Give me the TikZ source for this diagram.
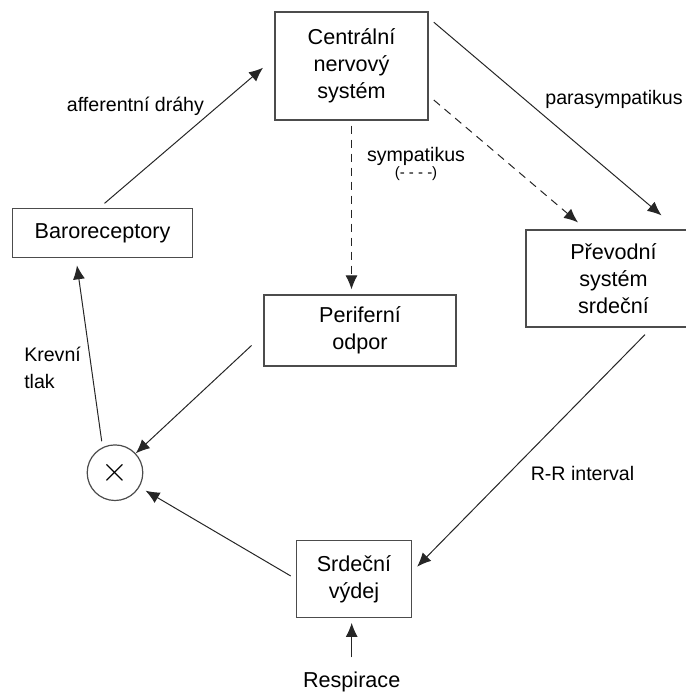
\documentclass[tikz,border=0pt]{standalone}
\usepackage{fontspec}
\setmainfont{Liberation Sans}
\usepackage{tikz}
\usetikzlibrary{positioning,arrows.meta}

\begin{document}
\begin{tikzpicture}[
  block/.style={draw=black!70, line width=0.6pt, inner sep=0pt, align=center,
               font=\fontsize{10.8}{13.6}\selectfont},
  lbl/.style={inner sep=0pt, font=\fontsize{9.8}{13.3}\selectfont},
  conn/.style={draw=black!85, line width=0.5pt},
  dashconn/.style={conn, dash pattern=on 4pt off 3pt},
  on grid,
  >={Latex[length=7pt,width=6pt]}
]

\useasboundingbox (0,0) rectangle (343pt,-346.5pt);

% Central node
\node[block, minimum width=76.5pt, minimum height=54pt] (cns) at (175.75pt,-33pt)
  {Centrální\\nervový\\systém};

% Left side
\node[block, minimum width=90pt, minimum height=24.75pt,
      below left=83.5pt and 124.5pt of cns] (baro) {Baroreceptory};
\node[circle, draw=black!70, line width=0.6pt, minimum size=27.8pt, inner sep=0pt,
      font=\fontsize{16}{16}\selectfont,
      below left=203.35pt and 118.25pt of cns] (mult) {$\times$};

% Middle
\node[block, minimum width=96pt, minimum height=35.5pt,
      below right=132.25pt and 4.25pt of cns] (perif) {Periferní\\odpor};
\node[block, minimum width=57.5pt, minimum height=38.3pt,
      below right=256.5pt and 1.25pt of cns] (srdce) {Srdeční\\výdej};
\node[block, draw=none, inner sep=7pt,
      below left=51.5pt and 1.15pt of srdce] (resp) {Respirace};

% Right side
\node[block, minimum width=87.5pt, minimum height=48.5pt,
      below right=106.25pt and 131pt of cns] (prevod) {Převodní\\systém\\srdeční};

% Connections from CNS
\draw[->, conn] ([xshift=2.6pt,yshift=-5.4pt]cns.north east)
  -- ([xshift=24pt,yshift=7pt]prevod.north)
  node[lbl, pos=0.4, right=10pt] (para) {parasympatikus};
\draw[->, dashconn] ([xshift=2.6pt,yshift=10.3pt]cns.south east)
  -- ([xshift=-17.75pt,yshift=3.5pt]prevod.north);
\draw[->, dashconn, shorten <=2.5pt, shorten >=2.5pt] (cns.south)
  -- (cns.south |- perif.north)
  node[lbl, pos=0.25, right=7.5pt, align=center] (symp)
  {sympatikus\\[-5pt]{\fontsize{7.5}{8}\selectfont(- - - -)}};

% Loop back
\draw[->, conn, shorten <=4pt] ([xshift=-3pt,yshift=-4.75pt]perif.west) -- (mult);
\draw[->, conn] ([xshift=15.75pt,yshift=-3.5pt]prevod.south)
  -- ([xshift=2.5pt,yshift=6.15pt]srdce.east)
  node[lbl, pos=0.6, right=11pt] (rr) {R-R interval};
\draw[->, conn, shorten <=3pt, shorten >=3.5pt] (srdce.west) -- (mult);
\draw[->, conn, shorten <=3pt, shorten >=3.5pt] (mult.116)
  -- ([xshift=-13.25pt]baro.south)
  node[lbl, pos=0.42, left=5pt, align=left] (bp) {Krevní\\tlak};
\draw[->, conn, shorten <=3.3pt, shorten >=7.5pt] ([xshift=-1.5pt]baro.north)
  -- ([yshift=4pt]cns.west)
  node[lbl, pos=0.68, left=7pt] (aff) {afferentní dráhy};
\draw[->, conn, shorten >=2.5pt] (resp.north) -- (resp.north |- srdce.south);

\end{tikzpicture}
\end{document}
